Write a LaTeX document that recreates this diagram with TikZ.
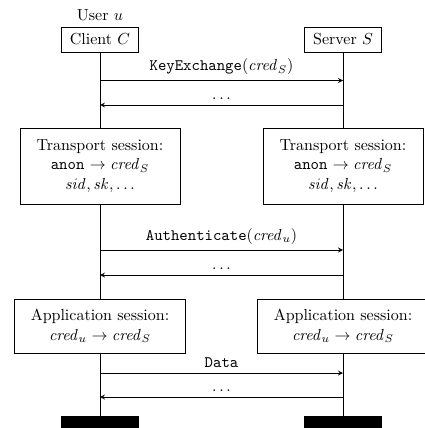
\documentclass[tikz,border=0pt]{standalone}
\usepackage{amsmath,amssymb}
\usepackage{tikz}
\usepackage{xcolor}
\usetikzlibrary{positioning}

\tikzset{
  entity/.style={draw, minimum width=48pt, minimum height=15.6pt, inner sep=2pt},
  session/.style={draw, align=center, minimum width=100pt, minimum height=47.5pt},
  appsession/.style={draw, align=center, minimum width=107pt, minimum height=33.75pt},
  endbar/.style={fill=black, minimum width=48.75pt, minimum height=7.5pt, inner sep=0pt},
  msg/.style={-stealth},
}

\begin{document}
\begin{tikzpicture}[x=0.625pt,y=-0.625pt]
            \useasboundingbox (0,0) rectangle (425,428);

            % instance heads
            \node[entity] (client) at (100,39.5) {Client $C$};
            \node[above=0pt of client] (user) {User $u$};
            \node[entity] (server) at (343,39.5) {Server $S$};

            % sessions
            \node[session] (ctrans) at (100,166) {Transport session:\\ \texttt{anon} $\to \mathit{cred}_S$\\ $\mathit{sid}, \mathit{sk}, \ldots$};
            \node[session] (strans) at (343,166) {Transport session:\\ \texttt{anon} $\to \mathit{cred}_S$\\ $\mathit{sid}, \mathit{sk}, \ldots$};
            \node[appsession] (capp) at (100,326) {Application session:\\ $\mathit{cred}_u \to \mathit{cred}_S$};
            \node[appsession] (sapp) at (343,326) {Application session:\\ $\mathit{cred}_u \to \mathit{cred}_S$};

            % instance ends
            \node[endbar] (cend) at (100,422) {};
            \node[endbar] (send) at (343,422) {};

            % lifelines
            \draw (client.south) -- (ctrans.north);
            \draw (ctrans.south) -- (capp.north);
            \draw (capp.south) -- (cend.north);
            \draw (server.south) -- (strans.north);
            \draw (strans.south) -- (sapp.north);
            \draw (sapp.south) -- (send.north);

            % messages
            \coordinate (c1) at (100,80.5);  \coordinate (s1) at (343,80.5);
            \coordinate (c2) at (100,105);   \coordinate (s2) at (343,105);
            \coordinate (c3) at (100,250);   \coordinate (s3) at (343,250);
            \coordinate (c4) at (100,275);   \coordinate (s4) at (343,275);
            \coordinate (c5) at (100,373);   \coordinate (s5) at (343,373);
            \coordinate (c6) at (100,397);   \coordinate (s6) at (343,397);

            \draw[msg] (c1) -- node[above] {\texttt{KeyExchange}$(\mathit{cred}_S)$} (s1);
            \draw[msg] (s2) -- node[above] {$\ldots$} (c2);
            \draw[msg] (c3) -- node[above] {\texttt{Authenticate}$(\mathit{cred}_u)$} (s3);
            \draw[msg] (s4) -- node[above] {$\ldots$} (c4);
            \draw[msg] (c5) -- node[above] {\texttt{Data}} (s5);
            \draw[msg] (s6) -- node[above] {$\ldots$} (c6);
        \end{tikzpicture}
\end{document}
